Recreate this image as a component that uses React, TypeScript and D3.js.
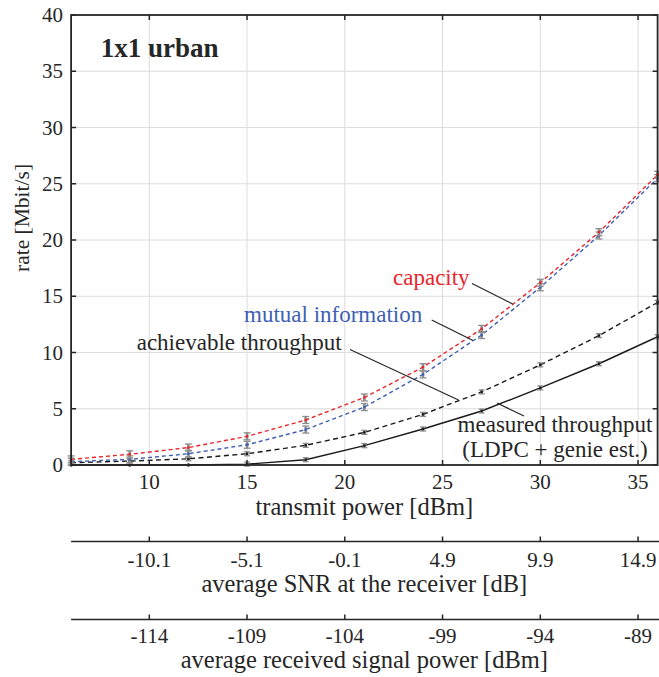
import React from "react";
import * as d3 from "d3";

const txPower = [6, 9, 12, 15, 18, 21, 24, 27, 30, 33, 36];
const capacity = [0.5, 0.95, 1.55, 2.55, 4.0, 6.0, 8.7, 12.1, 16.2, 20.7, 25.8];
const mutualInfo = [0.3, 0.5, 1.0, 1.8, 3.15, 5.15, 8.05, 11.55, 15.8, 20.4, 25.5];
const achievable = [0.2, 0.35, 0.55, 1.0, 1.75, 2.9, 4.5, 6.5, 8.9, 11.5, 14.45];
const measured = [0, 0, 0, 0.08, 0.47, 1.72, 3.2, 4.8, 6.85, 9.0, 11.4];

const yTicks = [0, 5, 10, 15, 20, 25, 30, 35, 40];
const xTicks = [10, 15, 20, 25, 30, 35];
const snrTicks = [-10.1, -5.1, -0.1, 4.9, 9.9, 14.9];
const rxTicks = [-114, -109, -104, -99, -94, -89];
const snrOffset = 20.1;
const rxOffset = 124;

const FONT = "Liberation Serif, Tinos, DejaVu Serif, Noto Serif, serif";
const TXT = "#262626";
const RED = "#e8262c";
const BLUE = "#3e5fb2";
const GRAY = "#8e8e8e";

export default function App() {
  const W = 659, H = 677;
  const L = 71.1, R = 657.6, T = 15, B = 465;
  const x = d3.scaleLinear().domain([6, 36]).range([L, R]);
  const y = d3.scaleLinear().domain([0, 40]).range([B, T]);
  const xSnr = d3.scaleLinear().domain([6 - snrOffset, 36 - snrOffset]).range([L, R]);
  const xRx = d3.scaleLinear().domain([6 - rxOffset, 36 - rxOffset]).range([L, R]);

  const line = (vals: number[]) =>
    d3.line<number>().x((_, i) => x(txPower[i])).y((v) => y(v))(vals) || "";

  const series = [
    { vals: measured, color: "#1a1a1a", dash: undefined as string | undefined, big: false },
    { vals: achievable, color: "#1a1a1a", dash: "5,3.5", big: false },
    { vals: mutualInfo, color: BLUE, dash: "4,3", big: true },
    { vals: capacity, color: RED, dash: "4,3", big: true },
  ];

  const marker = (cx: number, cy: number, color: string, big: boolean, key: string) => {
    const hw = big ? 3.5 : 3;
    const hh = big ? 3.5 : 2;
    return (
      <g key={key}>
        <line x1={cx} x2={cx} y1={cy - hh} y2={cy + hh} stroke={GRAY} strokeWidth={2.5} />
        <line x1={cx - hw} x2={cx + hw} y1={cy - hh} y2={cy - hh} stroke={GRAY} strokeWidth={1.3} />
        <line x1={cx - hw} x2={cx + hw} y1={cy + hh} y2={cy + hh} stroke={GRAY} strokeWidth={1.3} />
        <rect x={cx - 1.2} y={cy - 1.2} width={2.4} height={2.4} fill={color} />
      </g>
    );
  };

  const fontStyle = { fontFamily: FONT } as React.CSSProperties;

  return (
    <svg width={W} height={H} style={{ position: "absolute", left: 0, top: 0, background: "#fff", fontFamily: FONT }}>
      <rect x={0} y={0} width={W} height={H} fill="#fff" />
      {/* grid */}
      {xTicks.map((t) => (
        <line key={"gx" + t} x1={x(t)} x2={x(t)} y1={T} y2={B} stroke="#dcdcdc" strokeWidth={1} />
      ))}
      {yTicks.filter((t) => t > 0 && t < 40).map((t) => (
        <line key={"gy" + t} x1={L} x2={R} y1={y(t)} y2={y(t)} stroke="#dcdcdc" strokeWidth={1} />
      ))}

      {/* series lines */}
      {series.map((s, i) => (
        <path key={"s" + i} d={line(s.vals)} fill="none" stroke={s.color} strokeWidth={1.4} strokeDasharray={s.dash} />
      ))}
      {series.map((s, i) =>
        s.vals.map((v, j) =>
          v <= 0.02 ? (
            <circle key={"d" + i + "-" + j} cx={x(txPower[j])} cy={y(v)} r={1.8} fill="#1a1a1a" />
          ) : (
            marker(x(txPower[j]), y(v), s.color, s.big, "m" + i + "-" + j)
          )
        )
      )}

      {/* frame */}
      <rect x={L} y={T} width={R - L} height={B - T} fill="none" stroke={TXT} strokeWidth={1.8} />
      {xTicks.map((t) => (
        <g key={"xt" + t}>
          <line x1={x(t)} x2={x(t)} y1={B} y2={B - 5} stroke={TXT} strokeWidth={1.5} />
          <line x1={x(t)} x2={x(t)} y1={T} y2={T + 5} stroke={TXT} strokeWidth={1.5} />
          <text x={x(t)} y={489} textAnchor="middle" style={fontStyle} fontSize={21} fill={TXT}>{t}</text>
        </g>
      ))}
      {yTicks.map((t) => (
        <g key={"yt" + t}>
          <line x1={L} x2={L + 5} y1={y(t)} y2={y(t)} stroke={TXT} strokeWidth={1.5} />
          <line x1={R} x2={R - 5} y1={y(t)} y2={y(t)} stroke={TXT} strokeWidth={1.5} />
          <text x={63} y={y(t) + 7} textAnchor="end" style={fontStyle} fontSize={21} fill={TXT}>{t}</text>
        </g>
      ))}
      <text x={(L + R) / 2} y={515} textAnchor="middle" style={fontStyle} fontSize={24.5} fill={TXT}>transmit power [dBm]</text>
      <text transform="translate(29,218) rotate(-90)" textAnchor="middle" style={fontStyle} fontSize={21.5} fill={TXT}>rate [Mbit/s]</text>

      {/* title */}
      <text x={100.7} y={57} style={fontStyle} fontWeight="bold" fontSize={27} fill={TXT}>1x1 urban</text>

      {/* annotations */}
      <text x={393} y={285} style={fontStyle} fontSize={23} fill={RED}>capacity</text>
      <line x1={472} y1={283.5} x2={512.7} y2={304} stroke={TXT} strokeWidth={1.2} />
      <text x={244} y={322} style={fontStyle} fontSize={23} fill={BLUE}>mutual information</text>
      <line x1={431.7} y1={320} x2={473} y2={340.5} stroke={TXT} strokeWidth={1.2} />
      <text x={136.7} y={349.5} style={fontStyle} fontSize={23} fill={TXT}>achievable throughput</text>
      <line x1={350} y1={349.5} x2={458.5} y2={400} stroke={TXT} strokeWidth={1.2} />
      <text x={555} y={432} textAnchor="middle" style={fontStyle} fontSize={23} fill={TXT}>measured throughput</text>
      <text x={555} y={457} textAnchor="middle" style={fontStyle} fontSize={23} fill={TXT}>(LDPC + genie est.)</text>
      <line x1={524} y1={416} x2={497} y2={403} stroke={TXT} strokeWidth={1.2} />

      {/* secondary axis: SNR */}
      <line x1={L} x2={W} y1={541.5} y2={541.5} stroke={TXT} strokeWidth={1.5} />
      {snrTicks.map((t) => (
        <g key={"snr" + t}>
          <line x1={xSnr(t)} x2={xSnr(t)} y1={541.5} y2={536.5} stroke={TXT} strokeWidth={1.5} />
          <text x={xSnr(t)} y={567} textAnchor="middle" style={fontStyle} fontSize={21} fill={TXT}>{t.toFixed(1)}</text>
        </g>
      ))}
      <text x={(L + R) / 2} y={592} textAnchor="middle" style={fontStyle} fontSize={24.5} fill={TXT}>average SNR at the receiver [dB]</text>

      {/* secondary axis: received power */}
      <line x1={L} x2={W} y1={619.5} y2={619.5} stroke={TXT} strokeWidth={1.5} />
      {rxTicks.map((t) => (
        <g key={"rx" + t}>
          <line x1={xRx(t)} x2={xRx(t)} y1={619.5} y2={614.5} stroke={TXT} strokeWidth={1.5} />
          <text x={xRx(t)} y={643} textAnchor="middle" style={fontStyle} fontSize={21} fill={TXT}>{t}</text>
        </g>
      ))}
      <text x={(L + R) / 2} y={668} textAnchor="middle" style={fontStyle} fontSize={24.5} fill={TXT}>average received signal power [dBm]</text>
    </svg>
  );
}
